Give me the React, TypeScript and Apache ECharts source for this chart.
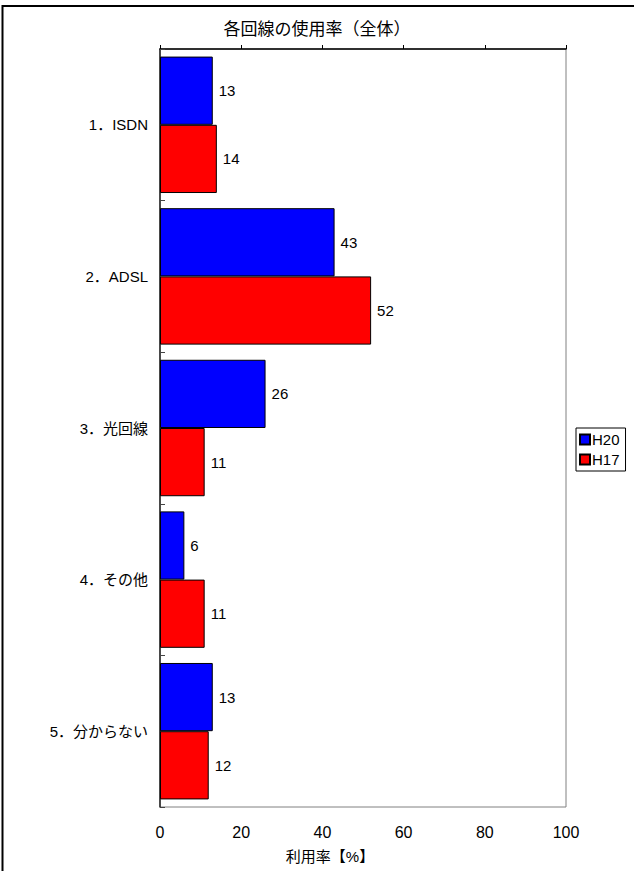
import React, { useEffect, useRef } from "react";
import * as echarts from "echarts";

const categories = ["1．ISDN", "2．ADSL", "3．光回線", "4．その他", "5．分からない"];
const h20Values = [13, 43, 26, 6, 13];
const h17Values = [14, 52, 11, 11, 12];
const seriesNames = ["H20", "H17"];
const xTicks = { min: 0, max: 100, interval: 20 };
const titleText = "各回線の使用率（全体）";
const axisName = "利用率【%】";

const FONT = "'Liberation Sans', 'Noto Sans CJK JP', sans-serif";

export default function App() {
  const ref = useRef<HTMLDivElement>(null);
  useEffect(() => {
    if (!ref.current) return;
    const chart = echarts.init(ref.current, undefined, { renderer: "svg" });
    const labelStyle = {
      show: true,
      position: "right",
      distance: 6,
      color: "#000",
      fontSize: 15,
      fontFamily: FONT,
    };
    chart.setOption({
      animation: false,
      backgroundColor: "#fff",
      textStyle: { fontFamily: FONT },
      title: {
        text: titleText,
        left: "center",
        top: 16,
        textStyle: { fontSize: 17, fontWeight: "normal", color: "#000", fontFamily: FONT },
      },
      graphic: [
        {
          type: "rect",
          shape: { x: 2.5, y: 6, width: 700, height: 900 },
          style: { fill: "none", stroke: "#000", lineWidth: 2 },
          silent: true,
        },
        {
          type: "text",
          x: 330,
          y: 856,
          style: {
            text: axisName,
            fontSize: 15,
            fill: "#000",
            fontFamily: FONT,
            textAlign: "center",
            textVerticalAlign: "middle",
          },
        },
      ],
      legend: {
        data: seriesNames,
        orient: "vertical",
        left: 576,
        top: 428,
        borderColor: "#000",
        borderWidth: 1,
        padding: [4, 6, 4, 3],
        itemWidth: 10,
        itemHeight: 10,
        itemGap: 5,
        icon: "rect",
        textStyle: { fontSize: 15, color: "#000", fontFamily: FONT, padding: [0, 0, 0, -3] },
      },
      grid: {
        left: 160,
        right: 68,
        top: 49,
        bottom: 64,
        show: true,
        borderColor: "#808080",
        borderWidth: 1,
        containLabel: false,
      },
      xAxis: [
        {
          type: "value",
          position: "top",
          min: xTicks.min,
          max: xTicks.max,
          interval: xTicks.interval,
          axisLine: { show: true, lineStyle: { color: "#000", width: 1.5 } },
          axisTick: { show: true, inside: false, length: 4, lineStyle: { color: "#000" } },
          axisLabel: { show: false },
          splitLine: { show: false },
        },
        {
          type: "value",
          position: "bottom",
          min: xTicks.min,
          max: xTicks.max,
          interval: xTicks.interval,
          axisLine: { show: false },
          axisTick: { show: false },
          axisLabel: { show: true, fontSize: 16, color: "#000", margin: 17, fontFamily: FONT },
          splitLine: { show: false },
        },
      ],
      yAxis: {
        type: "category",
        inverse: true,
        data: categories,
        axisLine: { show: true, lineStyle: { color: "#222", width: 1.5 } },
        axisTick: { show: true, inside: true, length: 5, lineStyle: { color: "#444" } },
        axisLabel: { fontSize: 15, color: "#000", margin: 12, fontFamily: FONT },
      },
      series: [
        {
          name: seriesNames[0],
          type: "bar",
          data: h20Values,
          xAxisIndex: 0,
          barGap: "0%",
          barCategoryGap: "10%",
          itemStyle: { color: "#0000FF", borderColor: "#000", borderWidth: 1 },
          label: labelStyle,
        },
        {
          name: seriesNames[1],
          type: "bar",
          data: h17Values,
          xAxisIndex: 0,
          barGap: "0%",
          barCategoryGap: "10%",
          itemStyle: { color: "#FF0000", borderColor: "#000", borderWidth: 1 },
          label: labelStyle,
        },
      ],
    });
    return () => chart.dispose();
  }, []);
  return (
    <div
      ref={ref}
      style={{ position: "fixed", left: 0, top: 0, width: 634, height: 871 }}
    />
  );
}
